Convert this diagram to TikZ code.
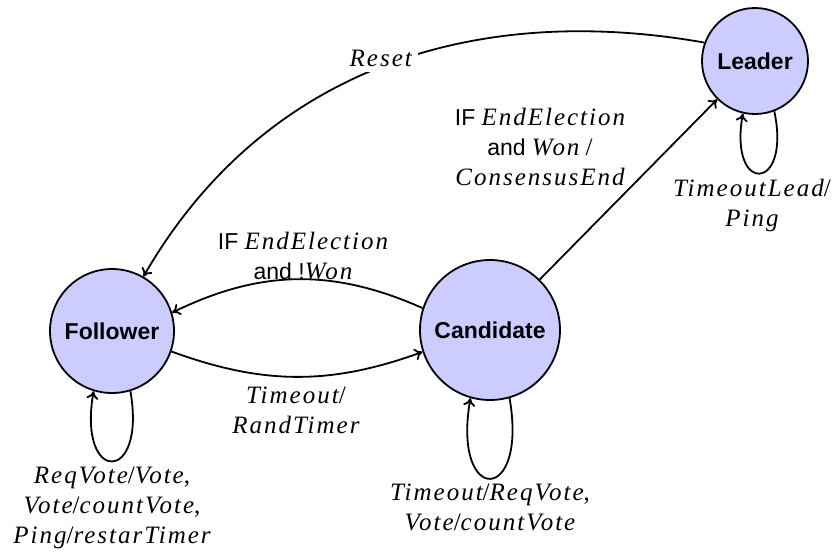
\documentclass[tikz,border=0pt]{standalone}
\usepackage{fontspec}
\setmainfont{Liberation Serif}
\setsansfont{Liberation Sans}
\newfontfamily\miffam{Liberation Serif}[LetterSpace=8]
\newcommand\mi[1]{{\miffam\itshape #1}}
\newcommand\slsh{{\rmfamily\upshape/}}
\newcommand\sfw[1]{{\sffamily\fontsize{11.5}{15}\selectfont #1}}
\usetikzlibrary{arrows.meta}
\begin{document}
\begin{tikzpicture}[x=0.5pt,y=0.5pt,
  state/.style={circle,draw,line width=0.9pt,fill=blue!20,inner sep=0pt,
    font=\sffamily\bfseries\fontsize{11.5}{14}\selectfont},
  tr/.style={-{To[length=4pt,width=6pt]},line width=0.9pt},
  lbl/.style={align=center,font=\fontsize{12.5}{15}\selectfont,inner sep=0pt}]
\useasboundingbox (0,0) rectangle (837,554);
\node[state,minimum size=62pt] (F) at (112,223) {Follower};
\node[state,minimum size=70pt] (C) at (490,224) {Candidate};
\node[state,minimum size=53pt] (L) at (755,493) {Leader};

\draw[tr] (F.-19) to[bend right=20] (C.-162);
\draw[tr] (C.162) to[bend right=25] (F.17);
\draw[tr] (C) -- (L);
\draw[tr] (L.160) to[out=170,in=60]
  node[lbl,fill=white,inner sep=3pt,pos=0.5,yshift=4.5pt] (lR) {\mi{Reset}} (F.60);

\draw[tr] (F.-73) .. controls +(-80:95) and +(-100:95) .. (F.-107);
\draw[tr] (C.-74) .. controls +(-80:109) and +(-100:109) .. (C.-106);
\draw[tr] (L.-69) .. controls +(-78:83) and +(-100:83) .. (L.-103);

\node[lbl] (lFC) at (296,144) {\mi{Timeout}\slsh\\\mi{RandTimer}};
\node[lbl] (lCF) at (303,298) {\sfw{IF} \mi{EndElection}\\\sfw{and !}\mi{Won}};
\node[lbl] (lCL) at (540,407) {\sfw{IF} \mi{EndElection}\\\sfw{and} \mi{Won} \slsh\\\mi{ConsensusEnd}};
\node[lbl] (lF) at (112,46) {\mi{ReqVote}\slsh\mi{Vote},\\\mi{Vote}\slsh\mi{countVote},\\\mi{Ping}\slsh\mi{restarTimer}};
\node[lbl] (lC) at (490,47) {\mi{Timeout}\slsh\mi{ReqVote},\\\mi{Vote}\slsh\mi{countVote}};
\node[lbl] (lL) at (752,349) {\mi{TimeoutLead}\slsh\\\mi{Ping}};
\end{tikzpicture}
\end{document}
